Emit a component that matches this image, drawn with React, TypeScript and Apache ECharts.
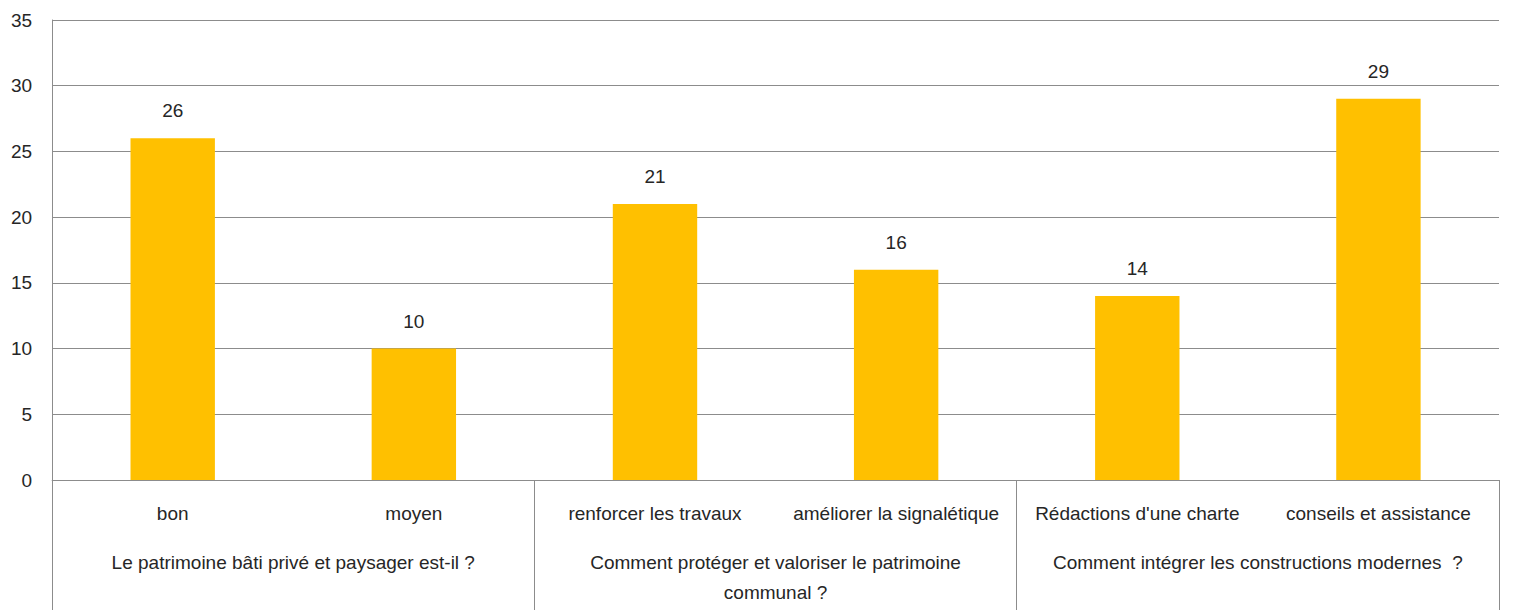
import React, { useEffect, useRef } from "react";
import * as echarts from "echarts";

const categories = [
  "bon",
  "moyen",
  "renforcer les travaux",
  "améliorer la signalétique",
  "Rédactions d'une charte",
  "conseils et assistance",
];
const values = [26, 10, 21, 16, 14, 29];
const groups = [
  "Le patrimoine bâti privé et paysager est-il ?",
  "Comment protéger et valoriser le patrimoine\ncommunal ?",
  "Comment intégrer les constructions modernes  ?",
];
const yTicks = { min: 0, max: 35, interval: 5 };

const FONT = "'Liberation Sans Narrow', 'Liberation Sans', Arial, sans-serif";
const TEXT = "#262626";
const GRID = "#8c8c8c";

export default function App() {
  const ref = useRef<HTMLDivElement>(null);
  useEffect(() => {
    const chart = echarts.init(ref.current!, null, { renderer: "svg" });
    chart.setOption({
      animation: false,
      textStyle: { fontFamily: FONT },
      grid: { left: 43, right: 14, top: 12, bottom: 130, containLabel: false },
      xAxis: [
        {
          type: "category",
          data: categories,
          position: "bottom",
          axisLine: { show: true, lineStyle: { color: GRID, width: 1 } },
          axisTick: { show: false },
          axisLabel: {
            interval: 0,
            margin: 24,
            fontSize: 19,
            color: TEXT,
            fontFamily: FONT,
          },
        },
        {
          type: "category",
          data: groups,
          position: "bottom",
          axisLine: { show: false },
          axisTick: {
            show: true,
            length: 140,
            lineStyle: { color: GRID, width: 1 },
          },
          axisLabel: {
            interval: 0,
            margin: 67,
            fontSize: 19,
            lineHeight: 30,
            color: TEXT,
            fontFamily: FONT,
            verticalAlign: "top",
          },
        },
      ],
      yAxis: {
        type: "value",
        min: yTicks.min,
        max: yTicks.max,
        interval: yTicks.interval,
        axisLine: { show: true, lineStyle: { color: GRID } },
        axisTick: { show: false },
        splitLine: { show: true, lineStyle: { color: GRID, width: 1 } },
        axisLabel: { margin: 20, fontSize: 19, color: TEXT, fontFamily: FONT },
      },
      series: [
        {
          type: "bar",
          xAxisIndex: 0,
          data: values,
          barWidth: "35%",
          itemStyle: { color: "#FFC000" },
          label: {
            show: true,
            position: "top",
            distance: 18,
            fontSize: 19,
            color: TEXT,
            fontFamily: FONT,
          },
        },
      ],
    });
    return () => chart.dispose();
  }, []);
  return (
    <div
      ref={ref}
      style={{ width: 1505, height: 602, background: "#ffffff" }}
    />
  );
}
